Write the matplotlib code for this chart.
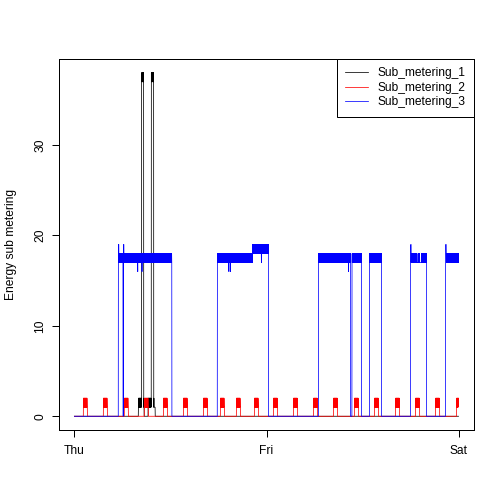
import matplotlib
matplotlib.use("Agg")
import matplotlib.pyplot as plt
import numpy as np

plt.rcParams['font.family'] = ['Liberation Sans', 'DejaVu Sans']

# two days of one-minute readings, Thu 00:00 -> Sat 00:00
N_MIN = 2880
DAY_TICKS = [0, 1440, 2880]
DAY_LABELS = ["Thu", "Fri", "Sat"]
SERIES_NAMES = ["Sub_metering_1", "Sub_metering_2", "Sub_metering_3"]
SERIES_COLORS = ["black", "red", "blue"]

# runs: (start minute, end minute, repeating values)
SUB1_RUNS = [
    (480, 503, [1, 2, 2, 1, 2, 2, 1, 2]),
    (503, 520, [37, 38, 38, 37, 38, 37, 38]),
    (520, 523, [1, 2]),
    (553, 577, [2, 1, 2, 2, 1, 2]),
    (577, 595, [38, 37, 38, 38, 37, 38]),
    (595, 598, [1, 2, 1]),
    (598, 606, [1]),
]

# fridge cycles on sub_metering_2 (start minute of each cycle)
SUB2_STARTS = [68, 218, 375, 525, 668, 818, 968, 1095, 1215, 1350,
               1493, 1643, 1793, 1943, 2100, 2250, 2408, 2558, 2708, 2865]
SUB2_CYCLE = [2, 1, 2, 2, 1, 2, 2, 2, 1, 2, 2, 1, 2, 2, 2, 1, 2, 2, 1, 2,
              2, 2, 1, 2, 2, 1, 2, 2, 1, 1]

SUB3_RUNS = [
    (330, 334, [19]),
    (334, 365, [17, 18]),
    (365, 368, [0]),
    (368, 372, [19]),
    (372, 475, [17, 18]),
    (475, 476, [16]),
    (476, 507, [18, 17]),
    (507, 508, [16]),
    (508, 731, [17, 18]),
    (1072, 1158, [17, 18]),
    (1158, 1159, [16]),
    (1159, 1170, [18, 17]),
    (1170, 1171, [16]),
    (1171, 1335, [17, 18]),
    (1335, 1402, [18, 19]),
    (1402, 1403, [17]),
    (1403, 1455, [19, 18]),
    (1830, 2055, [17, 18]),
    (2055, 2056, [16]),
    (2056, 2070, [17, 18]),
    (2081, 2152, [17, 18]),
    (2212, 2302, [17, 18]),
    (2520, 2525, [19]),
    (2525, 2565, [17, 18]),
    (2565, 2575, [17]),
    (2575, 2588, [17, 18]),
    (2588, 2600, [17]),
    (2600, 2612, [17, 18]),
    (2612, 2618, [17]),
    (2618, 2640, [17, 18]),
    (2782, 2788, [19]),
    (2788, 2880, [17, 18]),
]


def fill_runs(runs):
    vals = np.zeros(N_MIN)
    for start, end, pattern in runs:
        for i, m in enumerate(range(start, min(end, N_MIN))):
            vals[m] = pattern[i % len(pattern)]
    return vals


minutes = np.arange(N_MIN)
sub1 = fill_runs(SUB1_RUNS)
sub2 = fill_runs([(s, s + len(SUB2_CYCLE), SUB2_CYCLE) for s in SUB2_STARTS])
sub3 = fill_runs(SUB3_RUNS)

fig = plt.figure(figsize=(7, 7), dpi=72)
ax = fig.add_axes([59 / 504, 74 / 504, 415 / 504, 371 / 504])

for vals, name, col in zip([sub1, sub2, sub3], SERIES_NAMES, SERIES_COLORS):
    ax.plot(minutes, vals, color=col, lw=0.75, label=name)

# R style 4% padding
ax.set_xlim(-0.04 * N_MIN, N_MIN * 1.04)
ax.set_ylim(-0.04 * 38, 38 * 1.04)

ax.set_xticks(DAY_TICKS)
ax.set_xticklabels(DAY_LABELS)
ax.set_yticks([0, 10, 20, 30])
for lab in ax.get_yticklabels():
    lab.set_rotation(90)
    lab.set_va("center")
ax.tick_params(axis="both", length=7, width=1, labelsize=12, direction="out")
ax.tick_params(axis="x", pad=8)
ax.tick_params(axis="y", pad=6)
for sp in ax.spines.values():
    sp.set_linewidth(1)

fig.text(11 / 504, (74 + 371 / 2) / 504, "Energy sub metering", rotation=90,
         ha="center", va="center", fontsize=12)

leg = ax.legend(loc="upper right", borderaxespad=0, fancybox=False,
                edgecolor="black", framealpha=1, fontsize=12,
                handlelength=1.9, handletextpad=0.8, labelspacing=0.2,
                borderpad=0.7)
leg.get_frame().set_linewidth(1)

fig.savefig("out.png", dpi=72)
